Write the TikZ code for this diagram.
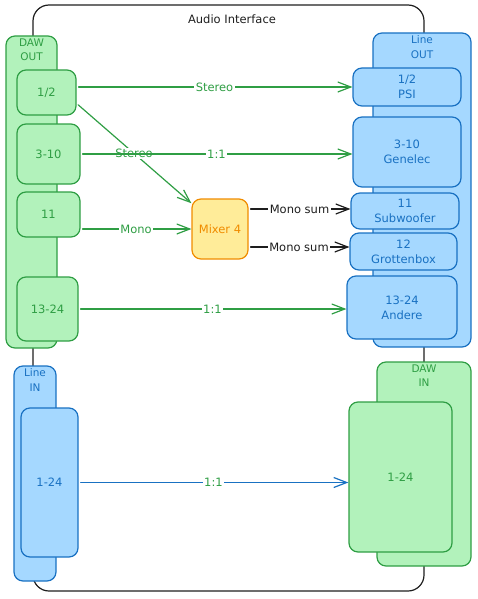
\documentclass[tikz,border=0pt]{standalone}
\usepackage{fontspec}
\setmainfont{DejaVu Sans}
\usetikzlibrary{arrows.meta}
\definecolor{grnfill}{HTML}{B2F2BB}
\definecolor{grnline}{HTML}{2F9E44}
\definecolor{blufill}{HTML}{A5D8FF}
\definecolor{bluline}{HTML}{1971C2}
\definecolor{ylwfill}{HTML}{FFEC99}
\definecolor{ylwline}{HTML}{F08C00}
\definecolor{ink}{HTML}{1E1E1E}
\begin{document}
\begin{tikzpicture}[x=1pt,y=-1pt,font=\fontsize{11.5}{15}\selectfont,line join=round,line cap=round,
  >={Straight Barb[length=13pt,width=10pt]},
  port/.style={draw,rounded corners=9pt,line width=1.2pt,inner sep=0pt,align=center},
  grn/.style={port,fill=grnfill,draw=grnline,text=grnline},
  blu/.style={port,fill=blufill,draw=bluline,text=bluline},
  grp/.style={anchor=north,inner sep=3pt,align=center,font=\fontsize{10.5}{14.5}\selectfont},
  link/.style={->,line width=1.2pt,shorten <=2pt},
  tag/.style={fill=white,inner sep=1.5pt}]
\useasboundingbox (0,0) rectangle (477,599);
% frame
\draw[ink,line width=1.2pt,rounded corners=16pt] (33,5) rectangle (424,591);
\node[ink] (title) at (232,19) {Audio Interface};

% groups
\node[grn,minimum width=51pt,minimum height=312pt] (dawout) at (31.5,192) {};
\node[grp,text=grnline] (dawoutlbl) at (dawout.north) {DAW\\OUT};
\node[blu,minimum width=98pt,minimum height=314pt] (lineout) at (422,190) {};
\node[grp,text=bluline] (lineoutlbl) at (lineout.north) {Line\\OUT};
\node[blu,minimum width=42pt,minimum height=215pt] (linein) at (35,473.5) {};
\node[grp,text=bluline] (lineinlbl) at (linein.north) {Line\\IN};
\node[grn,minimum width=94pt,minimum height=204pt] (dawin) at (424,464) {};
\node[grp,text=grnline] (dawinlbl) at (dawin.north) {DAW\\IN};

% DAW out ports
\node[grn,minimum width=59pt,minimum height=45pt] (g12) at (46.5,92.5) {1/2};
\node[grn,minimum width=63pt,minimum height=60pt] (g310) at (48.5,154) {3-10};
\node[grn,minimum width=63pt,minimum height=45pt] (g11) at (48.5,214.5) {11};
\node[grn,minimum width=61pt,minimum height=64pt] (g1324) at (47.5,309) {13-24};

% line out ports
\node[blu,minimum width=108pt,minimum height=38pt] (psi) at (407,87) {1/2\\PSI};
\node[blu,minimum width=108pt,minimum height=70pt] (gen) at (407,152) {3-10\\Genelec};
\node[blu,minimum width=108pt,minimum height=36pt] (sub) at (405,211) {11\\Subwoofer};
\node[blu,minimum width=107pt,minimum height=37pt] (grot) at (403.5,251.5) {12\\Grottenbox};
\node[blu,minimum width=110pt,minimum height=63pt] (andere) at (402,307.5) {13-24\\Andere};

% inputs
\node[blu,minimum width=57pt,minimum height=149pt] (li) at (49.5,482.5) {1-24};
\node[grn,minimum width=103pt,minimum height=150pt] (di) at (400.5,477) {1-24};

\node[port,fill=ylwfill,draw=ylwline,text=ylwline,minimum width=56pt,minimum height=60pt] (mix) at (220,229) {Mixer 4};

% connectors
\draw[link,grnline] (g12.east |- psi.west) -- node[tag,text=grnline] {Stereo} (psi.west);
\draw[link,grnline] (g12.-20) -- node[tag,text=grnline] {Stereo} (mix.138);
\draw[link,grnline] (g310.east) -- node[tag,text=grnline] {1:1} (g310.east -| gen.west);
\draw[link,grnline] (g11.east |- mix.west) -- node[tag,text=grnline] {Mono} (mix.west);
\draw[link,ink] ([yshift=20pt]mix.east) -- node[tag,text=ink] {Mono sum} ([yshift=20pt]mix.east -| sub.west);
\draw[link,ink] ([yshift=-18pt]mix.east) -- node[tag,text=ink] {Mono sum} ([yshift=-18pt]mix.east -| grot.west);
\draw[link,grnline] (g1324.east) -- node[tag,text=grnline] {1:1} (g1324.east -| andere.west);
\draw[link,bluline] (li.east) -- node[tag,text=grnline] {1:1} (li.east -| di.west);
\end{tikzpicture}
\end{document}
